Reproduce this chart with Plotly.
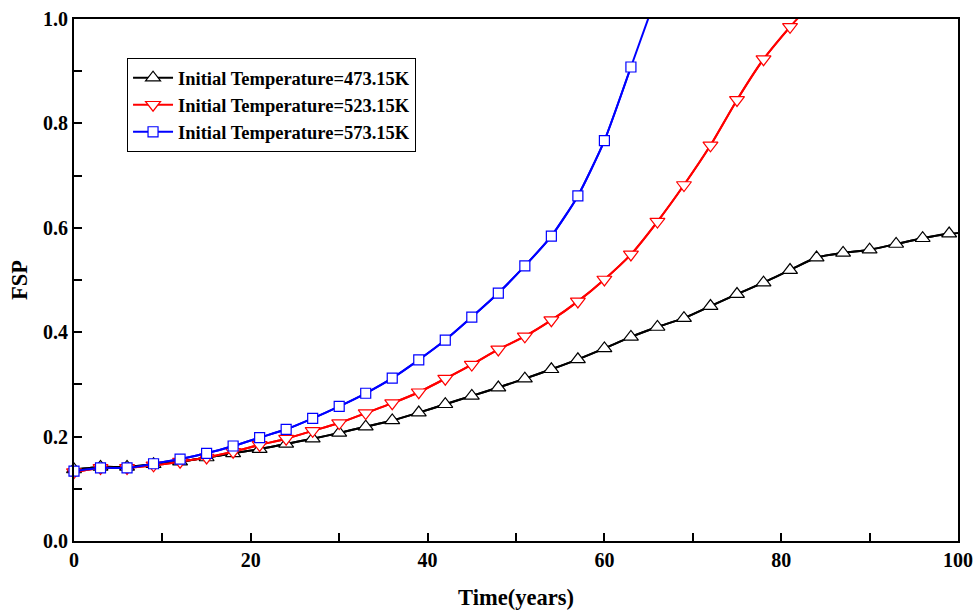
import plotly.graph_objects as go

# ---- data ----
t_markers = [0, 3, 6, 9, 12, 15, 18, 21, 24, 27, 30, 33, 36, 39, 42, 45, 48,
             51, 54, 57, 60, 63, 66, 69, 72, 75, 78, 81, 84, 87, 90, 93, 96, 99]

fsp_473 = [0.137, 0.142, 0.142, 0.147, 0.152, 0.160, 0.168, 0.176, 0.186, 0.196,
           0.207, 0.219, 0.231, 0.246, 0.262, 0.278, 0.294, 0.311, 0.329, 0.348,
           0.369, 0.391, 0.410, 0.427, 0.450, 0.473, 0.495, 0.519, 0.543, 0.552,
           0.558, 0.569, 0.580, 0.589]
t_473_end = [100]
fsp_473_end = [0.590]

t_523 = [0, 3, 6, 9, 12, 15, 18, 21, 24, 27, 30, 33, 36, 39, 42, 45, 48,
         51, 54, 57, 60, 63, 66, 69, 72, 75, 78, 81]
fsp_523 = [0.132, 0.140, 0.140, 0.145, 0.152, 0.160, 0.171, 0.184, 0.196, 0.211,
           0.226, 0.245, 0.264, 0.285, 0.311, 0.338, 0.367, 0.392, 0.423, 0.459,
           0.501, 0.549, 0.612, 0.682, 0.758, 0.845, 0.923, 0.985]
t_523_end = [84]
fsp_523_end = [1.04]

t_573 = [0, 3, 6, 9, 12, 15, 18, 21, 24, 27, 30, 33, 36, 39, 42, 45, 48,
         51, 54, 57, 60, 63]
fsp_573 = [0.134, 0.140, 0.140, 0.148, 0.157, 0.168, 0.182, 0.198, 0.214, 0.235,
           0.258, 0.283, 0.312, 0.347, 0.385, 0.429, 0.475, 0.527, 0.584, 0.661,
           0.767, 0.908]
t_573_end = [66]
fsp_573_end = [1.05]

names = ["Initial Temperature=473.15K", "Initial Temperature=523.15K",
         "Initial Temperature=573.15K"]

series = [
    (t_markers, fsp_473, t_473_end, fsp_473_end, "#000000", "triangle-up", 13),
    (t_523, fsp_523, t_523_end, fsp_523_end, "#ff0000", "triangle-down", 13),
    (t_573, fsp_573, t_573_end, fsp_573_end, "#0000ff", "square", 10),
]

FONT = "Liberation Serif"
fig = go.Figure()

# full lines (with extension beyond last marker), clipped to plot area
for (tx, ty, ex, ey, col, sym, sz) in series:
    fig.add_trace(go.Scatter(x=list(tx) + list(ex), y=list(ty) + list(ey),
                             mode="lines", line=dict(color=col, width=2, shape="spline", smoothing=0.6),
                             showlegend=False, hoverinfo="skip"))

# marker traces (legend entries)
for (tx, ty, ex, ey, col, sym, sz), nm in zip(series, names):
    fig.add_trace(go.Scatter(x=tx, y=ty, mode="lines+markers", name=nm,
                             line=dict(color=col, width=2, shape="spline", smoothing=0.6),
                             marker=dict(symbol=sym, size=sz, color="white",
                                         line=dict(color=col, width=1.2)),
                             cliponaxis=False))

axis_common = dict(showline=True, linecolor="black", linewidth=2, mirror=True,
                   ticks="inside", ticklen=8, tickwidth=1.5, tickcolor="black",
                   showgrid=False, zeroline=False, automargin=False,
                   tickfont=dict(family=FONT, size=20, color="black", weight="bold"))

fig.update_xaxes(range=[0, 100], dtick=20, tick0=0,
                 minor=dict(dtick=10, ticks="inside", ticklen=8, tickwidth=1.5, tickcolor="black"),
                 title=dict(text="Time(years)", font=dict(family=FONT, size=22.5, color="black", weight="bold"),
                            standoff=19),
                 **axis_common)
fig.update_yaxes(range=[0, 1.0], dtick=0.2, tick0=0, tickformat=".1f",
                 minor=dict(dtick=0.1, ticks="inside", ticklen=8, tickwidth=1.5, tickcolor="black"),
                 title=dict(text="FSP", font=dict(family=FONT, size=22.5, color="black", weight="bold"),
                            standoff=9),
                 **axis_common)

fig.update_layout(
    width=974, height=610,
    margin=dict(l=74, r=16, t=19, b=69),
    plot_bgcolor="white", paper_bgcolor="white",
    legend=dict(x=0.06, y=0.925, xanchor="left", yanchor="top",
                bordercolor="black", borderwidth=1, bgcolor="white",
                font=dict(family=FONT, size=18.5, color="black", weight="bold"),
                tracegroupgap=0, itemwidth=40),
)

fig.write_html("out.html")
